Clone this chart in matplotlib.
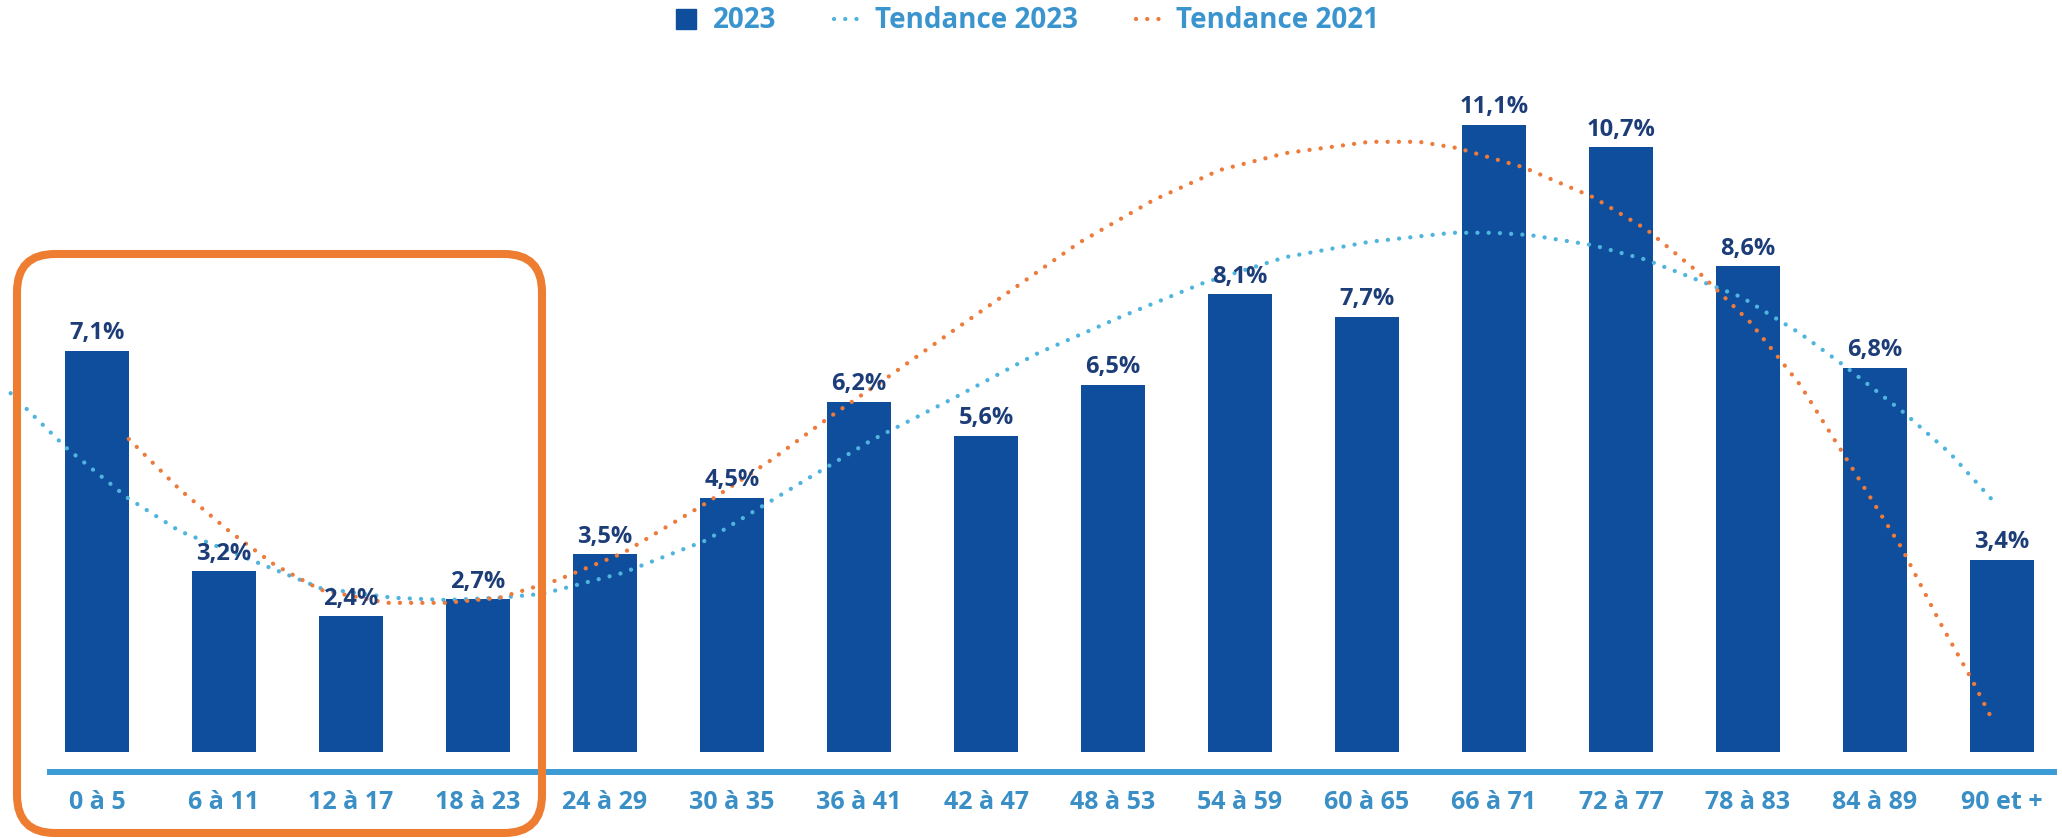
import matplotlib
matplotlib.use("Agg")
import numpy as np
import matplotlib.pyplot as plt
from matplotlib.lines import Line2D
from matplotlib.patches import FancyBboxPatch
from matplotlib.transforms import IdentityTransform

#
# Data
#
categories = [
    "0 à 5", "6 à 11", "12 à 17", "18 à 23", "24 à 29", "30 à 35",
    "36 à 41", "42 à 47", "48 à 53", "54 à 59", "60 à 65", "66 à 71",
    "72 à 77", "78 à 83", "84 à 89", "90 et +",
]
values_2023 = [7.1, 3.2, 2.4, 2.7, 3.5, 4.5, 6.2, 5.6, 6.5, 8.1, 7.7, 11.1, 10.7, 8.6, 6.8, 3.4]

# trend curves, sampled along the picture (x in category units)
trend_2023_x = [-0.68, -0.24, 0.24, 0.65, 1.31, 1.76, 2.33, 2.75, 3.17, 3.51, 4.14, 4.80,
                5.45, 6.10, 6.76, 7.41, 8.06, 8.71, 9.36, 10.02, 10.67, 11.0, 11.28, 11.78,
                12.2, 12.95, 13.41, 13.75, 14.22, 14.59, 14.96]
trend_2023_y = [6.35, 5.38, 4.50, 3.91, 3.31, 2.90, 2.73, 2.69, 2.73, 2.80, 3.17, 3.75,
                4.64, 5.52, 6.28, 7.06, 7.70, 8.30, 8.76, 9.03, 9.19, 9.19, 9.15, 8.97,
                8.71, 8.05, 7.41, 6.85, 6.02, 5.29, 4.37]

trend_2021_x = [0.25, 0.65, 1.04, 1.40, 1.76, 2.28, 2.75, 3.17, 3.62, 4.14, 4.80, 5.31,
                5.77, 6.23, 6.75, 7.28, 7.73, 8.32, 8.84, 9.36, 10.02, 10.41, 10.71, 11.23,
                11.78, 12.2, 12.63, 13.02, 13.41, 13.75, 14.21, 14.51, 14.77, 14.94]
trend_2021_y = [5.54, 4.65, 3.91, 3.31, 2.87, 2.64, 2.64, 2.73, 3.04, 3.52, 4.41, 5.17,
                5.93, 6.64, 7.47, 8.30, 9.01, 9.77, 10.30, 10.60, 10.80, 10.80, 10.69, 10.35,
                9.82, 9.25, 8.45, 7.60, 6.50, 5.28, 3.61, 2.30, 1.25, 0.50]

legend_labels = ["2023", "Tendance 2023", "Tendance 2021"]

bar_color = "#0f4e9c"
value_color = "#1c3d78"
cat_color = "#3a8fc6"
axis_color = "#3b9bd5"
cyan = "#4fb4de"
orange = "#ec7b3c"
box_color = "#ee7d31"

fonts = ["Open Sans", "DejaVu Sans"]
plt.rcParams["font.family"] = fonts

fig = plt.figure(figsize=(20.62, 8.38), dpi=100)
ax = fig.add_axes([0, 0, 1, 1])

x = np.arange(len(categories))

#
# Bars and labels
#
bars = ax.bar(x, values_2023, width=0.5, color=bar_color, zorder=2)
ax.bar_label(
    bars,
    labels=[f"{v:.1f}%".replace(".", ",") for v in values_2023],
    padding=4,
    fontsize=17,
    fontweight="bold",
    color=value_color,
    zorder=5,
)

#
# Trend lines
#
dots = (0, (0.01, 2.6))
ax.plot(trend_2023_x, trend_2023_y, color=cyan, lw=3.1, ls=dots,
        dash_capstyle="round", zorder=3)
ax.plot(trend_2021_x, trend_2021_y, color=orange, lw=3.1, ls=dots,
        dash_capstyle="round", zorder=3)

#
# Axes
#
ax.set_xlim(-97 / 127, (2062 - 97) / 127)
ax.set_ylim(-86 / 56.5, 752 / 56.5)

for side in ["top", "left", "right"]:
    ax.spines[side].set_visible(False)
ax.spines["bottom"].set_position(("data", -20 / 56.5))
ax.spines["bottom"].set_bounds(-47 / 127, 1957 / 127)
ax.spines["bottom"].set_linewidth(4.3)
ax.spines["bottom"].set_color(axis_color)

ax.set_xticks(x, categories)
ax.tick_params(axis="x", length=0, pad=13, labelsize=18, labelcolor=cat_color)
for t in ax.get_xticklabels():
    t.set_fontweight("bold")
ax.set_yticks([])
ax.patch.set_alpha(0)

#
# Legend
#
handles = [
    Line2D([], [], marker="s", ls="none", markersize=14, color=bar_color),
    Line2D([], [], color=cyan, lw=3.1, ls=dots, dash_capstyle="round"),
    Line2D([], [], color=orange, lw=3.1, ls=dots, dash_capstyle="round"),
]
ax.legend(
    handles, legend_labels,
    loc="center", bbox_to_anchor=(0.4975, 0.975), bbox_transform=fig.transFigure,
    ncol=3, frameon=False, borderpad=0,
    prop=dict(family=fonts, weight="bold", size=20),
    labelcolor="#3a95cf", handlelength=1.0, handletextpad=0.45, columnspacing=2.1,
)

#
# Highlight box round the first four groups (pixels)
#
box = FancyBboxPatch(
    (17, 5), 525, 579,
    boxstyle="round,pad=0,rounding_size=38",
    transform=IdentityTransform(),
    fill=False, ec=box_color, lw=5.8,
)
fig.add_artist(box)

fig.savefig("out.png", dpi=100, facecolor="white")
